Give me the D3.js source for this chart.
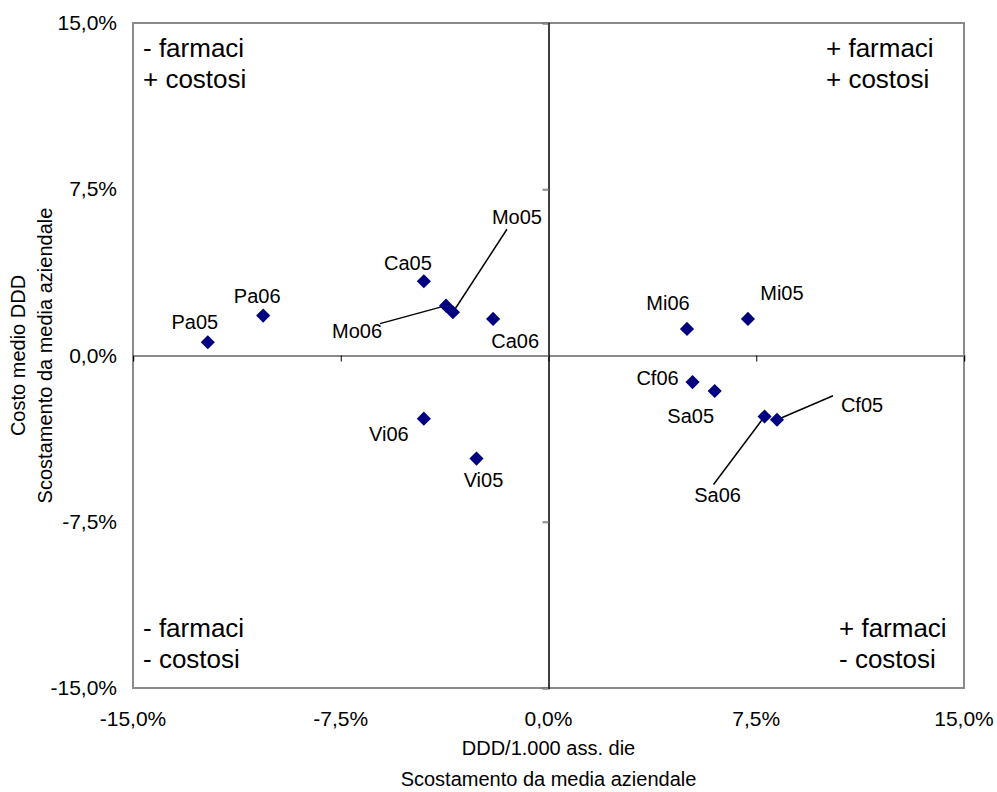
<!DOCTYPE html>
<html>
<head>
<meta charset="utf-8">
<script src="https://cdn.jsdelivr.net/npm/d3@7"></script>
<style>
  body { margin: 0; background: #fff; }
  svg text { font-family: "Liberation Sans", Arial, sans-serif; fill: #000; }
</style>
</head>
<body>
<svg width="997" height="792"></svg>
<script>
// data
var names    = ["Pa05", "Pa06", "Ca05", "Mo06", "Mo05", "Ca06", "Vi06", "Vi05",
                "Mi06", "Mi05", "Cf06", "Sa05", "Sa06", "Cf05"];
var dddDev   = [-12.3, -10.3, -4.5, -3.7, -3.45, -2.0, -4.5, -2.6,
                 5.0, 7.2, 5.2, 6.0, 7.8, 8.25];
var costDev  = [0.6, 1.8, 3.35, 2.25, 1.95, 1.65, -2.85, -4.65,
                1.2, 1.65, -1.2, -1.6, -2.75, -2.9];
var axisTicks = [-15, -7.5, 0, 7.5, 15];
var quadrants = [
    { lines: ["- farmaci", "+ costosi"], x: -15, y: 15 },
    { lines: ["+ farmaci", "+ costosi"], x: 15, y: 15 },
    { lines: ["- farmaci", "- costosi"], x: -15, y: -15 },
    { lines: ["+ farmaci", "- costosi"], x: 15, y: -15 }
];

// label placement (pixels from the marker)
var labelPos = {
    Pa05: [-13, -20], Pa06: [-6, -20], Ca05: [-16, -18], Mo06: [-89, 25],
    Mo05: [64, -95], Ca06: [22, 22], Vi06: [-35, 15], Vi05: [7, 21],
    Mi06: [-19, -26], Mi05: [34, -26], Cf06: [-35, -4], Sa05: [-24, 25],
    Sa06: [-47, 79], Cf05: [85, -15]
};
var leaders = { Mo06: [-66, 18], Mo05: [54, -83], Sa06: [-51, 68], Cf05: [56, -24] };

var svg = d3.select("svg");
var plotL = 133, plotR = 964, plotT = 23, plotB = 688;

var x = d3.scaleLinear().domain([-15, 15]).range([plotL, plotR]);
var y = d3.scaleLinear().domain([-15, 15]).range([plotB, plotT]);

var it = d3.formatLocale({ decimal: ",", thousands: ".", grouping: [3], currency: ["€", ""], minus: "-" });
var fmt = function (d) { return it.format(".1f")(d) + "%"; };

var points = names.map(function (n, i) { return { name: n, x: dddDev[i], y: costDev[i] }; });

// frame
svg.append("rect")
    .attr("x", plotL).attr("y", plotT)
    .attr("width", plotR - plotL).attr("height", plotB - plotT)
    .attr("fill", "none").attr("stroke", "#8a8a8a").attr("stroke-width", 2);

// horizontal zero axis with ticks
var xAxis = svg.append("g")
    .attr("transform", "translate(0," + y(0) + ")")
    .call(d3.axisBottom(x).tickValues(axisTicks).tickSize(6).tickFormat(""));
xAxis.select(".domain").attr("stroke", "#8a8a8a").attr("stroke-width", 2);
xAxis.selectAll(".tick line").attr("stroke", "#000");

// vertical zero axis with ticks
var yAxis = svg.append("g")
    .attr("transform", "translate(" + x(0) + ",0)")
    .call(d3.axisLeft(y).tickValues(axisTicks).tickSize(6).tickFormat(""));
yAxis.select(".domain").attr("stroke", "#000").attr("stroke-width", 1.5);
yAxis.selectAll(".tick line").attr("stroke", "#8a8a8a").attr("stroke-width", 2);

// tick labels sit on the frame edges
svg.append("g").selectAll("text")
    .data(axisTicks).enter().append("text")
    .attr("x", function (d) { return x(d); })
    .attr("y", plotB + 38)
    .attr("text-anchor", "middle")
    .attr("font-size", 21)
    .text(fmt);

svg.append("g").selectAll("text")
    .data(axisTicks).enter().append("text")
    .attr("x", plotL - 16)
    .attr("y", function (d) { return y(d) + 7; })
    .attr("text-anchor", "end")
    .attr("font-size", 21)
    .text(fmt);

// axis titles
svg.append("text").attr("x", x(0)).attr("y", 755)
    .attr("text-anchor", "middle").attr("font-size", 20).text("DDD/1.000 ass. die");
svg.append("text").attr("x", x(0)).attr("y", 786)
    .attr("text-anchor", "middle").attr("font-size", 20).text("Scostamento da media aziendale");

svg.append("text").attr("transform", "translate(25," + y(0) + ") rotate(-90)")
    .attr("text-anchor", "middle").attr("font-size", 20).text("Costo medio DDD");
svg.append("text").attr("transform", "translate(52," + y(0) + ") rotate(-90)")
    .attr("text-anchor", "middle").attr("font-size", 20).text("Scostamento da media aziendale");

// quadrant captions
quadrants.forEach(function (q) {
    var tx = q.x < 0 ? x(q.x) + 10 : x(q.x) - (q.y > 0 ? 138 : 125);
    var ty = q.y > 0 ? y(q.y) + 34 : y(q.y) - 51;
    q.lines.forEach(function (l, j) {
        svg.append("text")
            .attr("x", tx).attr("y", ty + j * 31)
            .attr("font-size", 26)
            .text(l);
    });
});

// leader lines
svg.append("g").selectAll("line")
    .data(points.filter(function (d) { return leaders[d.name]; }))
    .enter().append("line")
    .attr("x1", function (d) { return x(d.x) + leaders[d.name][0]; })
    .attr("y1", function (d) { return y(d.y) + leaders[d.name][1]; })
    .attr("x2", function (d) { return x(d.x); })
    .attr("y2", function (d) { return y(d.y); })
    .attr("stroke", "#000").attr("stroke-width", 1.5);

// markers
svg.append("g").selectAll("path")
    .data(points).enter().append("path")
    .attr("d", d3.symbol().type(d3.symbolSquare).size(100))
    .attr("transform", function (d) { return "translate(" + x(d.x) + "," + y(d.y) + ") rotate(45)"; })
    .attr("fill", "#000080");

// point labels
svg.append("g").selectAll("text")
    .data(points).enter().append("text")
    .attr("x", function (d) { return x(d.x) + labelPos[d.name][0]; })
    .attr("y", function (d) { return y(d.y) + labelPos[d.name][1]; })
    .attr("dy", "0.35em")
    .attr("text-anchor", "middle")
    .attr("font-size", 20)
    .text(function (d) { return d.name; });
</script>
</body>
</html>
